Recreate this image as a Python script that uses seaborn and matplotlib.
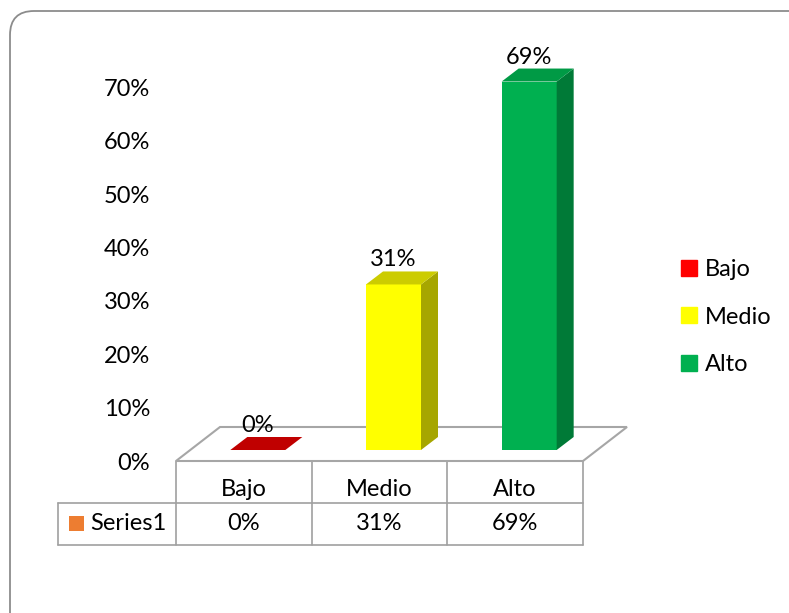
import numpy as np
import pandas as pd
import seaborn as sns
import matplotlib.pyplot as plt
from matplotlib.patches import Polygon, Rectangle, FancyBboxPatch, Patch
from matplotlib.transforms import ScaledTranslation

# datos del grafico
categorias = ["Bajo", "Medio", "Alto"]
valores = [0, 31, 69]
colores = ["#FF0000", "#FFFF00", "#00B050"]
colores_lado = ["#A00000", "#A6A600", "#007A37"]
colores_techo = ["#C00000", "#CCCC00", "#009A45"]
serie = "Series1"
ticks_y = [0, 10, 20, 30, 40, 50, 60, 70]

data = pd.DataFrame({"nivel": categorias, "valor": valores})

sns.set_style("white")
plt.rcParams["font.family"] = ["Lato", "DejaVu Sans"]
plt.rcParams["text.color"] = "black"
plt.rcParams["ytick.color"] = "black"
FS = 17

W, H = 789, 613
fig = plt.figure(figsize=(W / 100, H / 100), dpi=100)

def fx(px):
    return px / W

def fy(py):
    return 1 - py / H

# capa de fondo en pixeles (marco, tabla)
bg = fig.add_axes([0, 0, 1, 1], zorder=0)
bg.set_xlim(0, W)
bg.set_ylim(H, 0)
bg.axis("off")
bg.add_patch(FancyBboxPatch((10, 11), 820, 640, boxstyle="round,pad=0,rounding_size=24",
                            fc="white", ec="#8c8c8c", lw=1.3))

# ejes principales: el plano frontal del piso
left, right, y_base, y_top = 176, 583, 461, 40
px_cat = (right - left) / len(categorias)
px_pct = 5.34
ax = fig.add_axes([fx(left), fy(y_base), (right - left) / W, (y_base - y_top) / H], zorder=2)
ax.set_facecolor("none")

sns.barplot(data=data, x="nivel", y="valor", hue="nivel", palette=colores, order=categorias,
            hue_order=categorias, width=55 / px_cat, saturation=1, legend=False, ax=ax, zorder=3)
ax.set_xlim(-0.5, len(categorias) - 0.5)
ax.set_ylim(0, (y_base - y_top) / px_pct)

# piso
fdx, fdy = 44 / px_cat, 34 / px_pct
piso = Polygon([(-0.5, 0), (2.5, 0), (2.5 + fdx, fdy), (-0.5 + fdx, fdy)], closed=True,
               fc="white", ec="#a6a6a6", lw=1.5, clip_on=False, zorder=1)
ax.add_patch(piso)

# barras en 3D: desplazar y agregar lado y techo
shift = ax.transData + ScaledTranslation(14 / 100, 11 / 100, fig.dpi_scale_trans)
ddx, ddy = 17 / px_cat, 13 / px_pct
for i, p in enumerate(ax.patches[:len(categorias)]):
    p.set_transform(shift)
    p.set_edgecolor("none")
    x0, w, h = p.get_x(), p.get_width(), p.get_height()
    lado = Polygon([(x0 + w, 0), (x0 + w + ddx, ddy), (x0 + w + ddx, h + ddy), (x0 + w, h)],
                   closed=True, fc=colores_lado[i], ec="none", transform=shift, zorder=3)
    techo = Polygon([(x0, h), (x0 + ddx, h + ddy), (x0 + w + ddx, h + ddy), (x0 + w, h)],
                    closed=True, fc=colores_techo[i], ec="none", transform=shift, zorder=3)
    ax.add_patch(lado)
    ax.add_patch(techo)
    ax.annotate(f"{valores[i]}%", xy=(x0 + w / 2, h), xycoords=shift, xytext=(0, 18 * 0.72),
                textcoords="offset points", ha="center", va="baseline", fontsize=FS,
                annotation_clip=False)

ax.set_yticks(ticks_y)
ax.set_yticklabels([f"{t}%" for t in ticks_y], fontsize=FS)
ax.tick_params(axis="y", length=0, pad=26 * 0.72)
ax.set_xticks([])
ax.set_xlabel("")
ax.set_ylabel("")
sns.despine(ax=ax, left=True, bottom=True)

# tabla de datos
gris = "#a0a0a0"
edges = [left + px_cat * k for k in range(len(categorias) + 1)]
r0, r1, r2 = 461, 503, 545
for e in edges:
    bg.plot([e, e], [r0, r2], color=gris, lw=1.2)
bg.plot([58, 58], [r1, r2], color=gris, lw=1.2)
bg.plot([58, right], [r1, r1], color=gris, lw=1.2)
bg.plot([58, right], [r2, r2], color=gris, lw=1.2)
for k, (cat, v) in enumerate(zip(categorias, valores)):
    cx = (edges[k] + edges[k + 1]) / 2
    bg.text(cx, 489, cat, ha="center", va="center", fontsize=FS)
    bg.text(cx, 524, f"{v}%", ha="center", va="center", fontsize=FS)
bg.add_patch(Rectangle((69, 516), 15, 15, fc="#ED7D31", ec="none"))
bg.text(90, 524, serie, ha="left", va="center", fontsize=FS)

# leyenda
handles = [Patch(color=c, label=l) for c, l in zip(colores, categorias)]
fig.legend(handles=handles, loc="center left", bbox_to_anchor=(fx(660), fy(317)),
           frameon=False, fontsize=FS, handlelength=0.65, handleheight=0.65,
           handletextpad=0.35, labelspacing=1.12)

fig.savefig("out.png", dpi=100)
